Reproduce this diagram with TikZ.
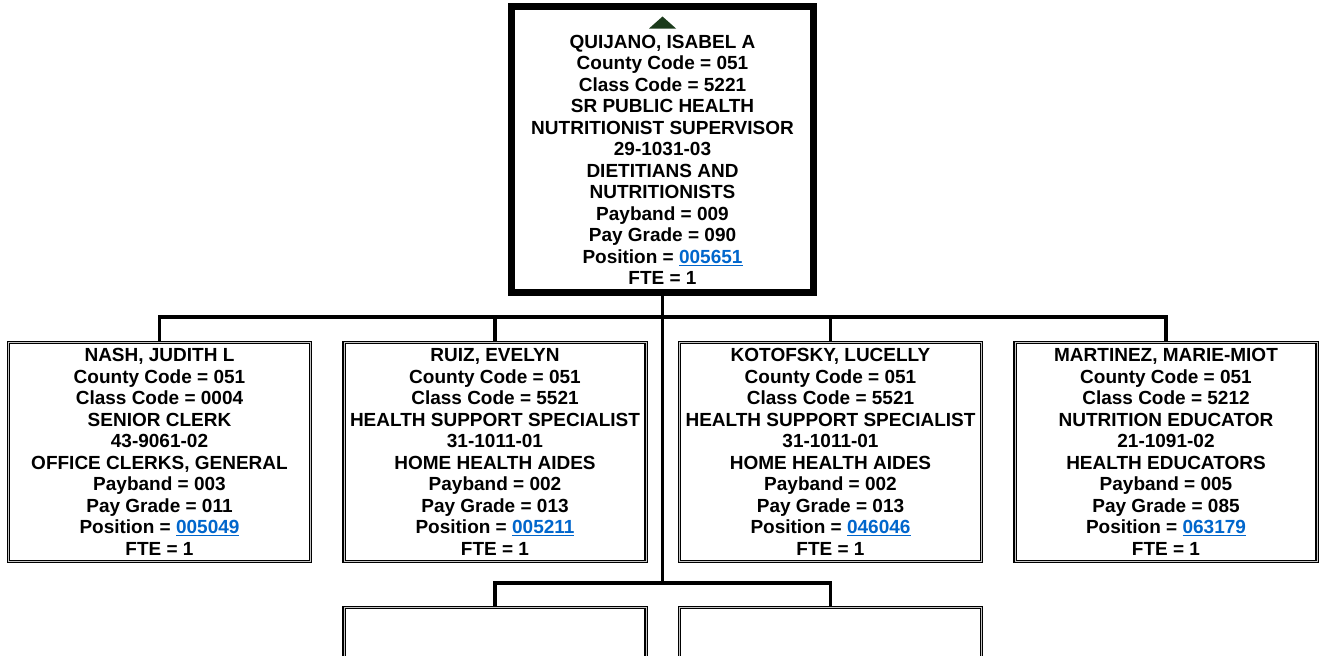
\documentclass[tikz,border=0pt]{standalone}
\usepackage{fontspec}
\setmainfont{Liberation Sans}
\definecolor{linkblue}{HTML}{0066CC}
\definecolor{verdeosc}{HTML}{1B3A1B}
\newcommand{\posnum}[1]{\textcolor{linkblue}{\underline{#1}}}

\begin{document}
\begin{tikzpicture}[x=1pt, y=-1pt, %Organigrama
        texto/.style={align=center, inner sep=0pt, font=\fontsize{19}{21.5}\selectfont\bfseries},
        caja/.style={texto, draw, line width=1.1pt, double=gray!45, double distance=1pt, fill=white,
                     minimum width=302pt, minimum height=219pt},
        linea/.style={line width=3.2pt}]
        \useasboundingbox (0,0) rectangle (1323,656);
        \clip (0,0) rectangle (1323,656);

        \node[draw, line width=7pt, minimum width=302pt, minimum height=286pt] (jefa) at (662.5,149.5) {};
        \fill[verdeosc] (649,28.5) -- (676,28.5) -- (662.5,16.5) -- cycle;
        \node[texto] (jefatexto) at (662.5,160) {QUIJANO, ISABEL A\\County Code = 051\\Class Code = 5221\\
            SR PUBLIC HEALTH\\NUTRITIONIST SUPERVISOR\\29-1031-03\\DIETITIANS AND\\NUTRITIONISTS\\
            Payband = 009\\Pay Grade = 090\\Position = \posnum{005651}\\FTE = 1};

        \node[caja] (nash) at (159.5,452) {NASH, JUDITH L\\County Code = 051\\Class Code = 0004\\SENIOR CLERK\\
            43-9061-02\\OFFICE CLERKS, GENERAL\\Payband = 003\\Pay Grade = 011\\Position = \posnum{005049}\\FTE = 1};
        \node[caja] (ruiz) at (495,452) {RUIZ, EVELYN\\County Code = 051\\Class Code = 5521\\HEALTH SUPPORT SPECIALIST\\
            31-1011-01\\HOME HEALTH AIDES\\Payband = 002\\Pay Grade = 013\\Position = \posnum{005211}\\FTE = 1};
        \node[caja] (kotofsky) at (830.5,452) {KOTOFSKY, LUCELLY\\County Code = 051\\Class Code = 5521\\HEALTH SUPPORT SPECIALIST\\
            31-1011-01\\HOME HEALTH AIDES\\Payband = 002\\Pay Grade = 013\\Position = \posnum{046046}\\FTE = 1};
        \node[caja] (martinez) at (1166,452) {MARTINEZ, MARIE-MIOT\\County Code = 051\\Class Code = 5212\\NUTRITION EDUCATOR\\
            21-1091-02\\HEALTH EDUCATORS\\Payband = 005\\Pay Grade = 085\\Position = \posnum{063179}\\FTE = 1};

        \node[caja] (vacante1) at (495,717) {};
        \node[caja] (vacante2) at (830.5,717) {};

        % lineas de mando
        \coordinate (bus) at (662.5,317);
        \coordinate (bus2) at (662.5,583);
        \draw[linea] (jefa.south) -- (bus2);
        \foreach \n in {nash, ruiz, kotofsky, martinez}
            \draw[linea] (bus) -| (\n.north);
        \foreach \n in {vacante1, vacante2}
            \draw[linea] (bus2) -| (\n.north);
    \end{tikzpicture}
\end{document}
